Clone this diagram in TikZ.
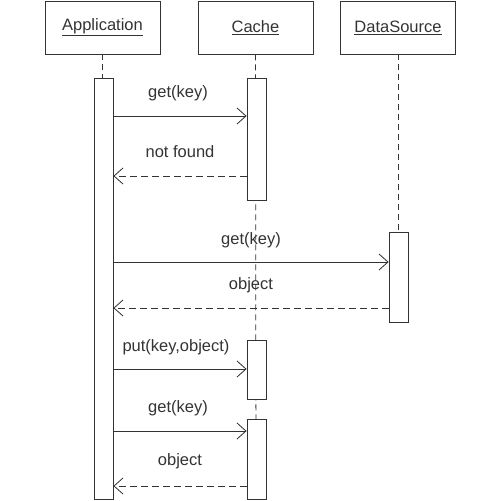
\documentclass[tikz,border=0pt]{standalone}
\usepackage{fontspec}
\setmainfont{Liberation Sans}
\usetikzlibrary{arrows.meta}
\begin{document}
\begin{tikzpicture}[x=1pt,y=-1pt,
  every node/.style={font=\fontsize{16.5}{19}\selectfont, text=black!80},
  head/.style={draw=black!80, line width=0.8pt, minimum width=115pt, minimum height=53pt, inner sep=0pt},
  life/.style={draw=black!80, line width=0.8pt, dash pattern=on 6pt off 4pt},
  act/.style={draw=black!80, fill=white, line width=0.8pt},
  msg/.style={draw=black!80, line width=0.8pt, -{Straight Barb[length=9pt,width=16pt]}},
  ret/.style={msg, dash pattern=on 7pt off 4pt},
  lbl/.style={inner sep=0pt}]
\useasboundingbox (0,0) rectangle (501,501);
% heads
\node[head] (app) at (102.5,27.5) {\underline{Application}};
\node[head] (cache) at (255.5,27.5) {\underline{Cache}};
\node[head] (ds) at (398,27.5) {\underline{DataSource}};
% lifelines
\coordinate (appL) at (102.5,78);
\coordinate (cacheL) at (256,499);
\coordinate (dsL) at (398,232);
\draw[life] (app.south) -- (appL);
\draw[life] (cache.south) -- (cacheL);
\draw[life] (ds.south) -- (dsL);
% activations
\node[act, minimum width=19pt, minimum height=421pt, inner sep=0pt] (appA) at (103.5,288.5) {};
\node[act, minimum width=19pt, minimum height=122pt, inner sep=0pt] (c1) at (256.5,139) {};
\node[act, minimum width=19pt, minimum height=90pt, inner sep=0pt] (dsA) at (398.5,277) {};
\node[act, minimum width=19pt, minimum height=59pt, inner sep=0pt] (c2) at (256.5,369.5) {};
\node[act, minimum width=19pt, minimum height=80pt, inner sep=0pt] (c3) at (256.5,459) {};
% messages
\draw[msg] (appA.east |- 0,116) -- (c1.west |- 0,116);
\node[lbl] (m1) at (178,93) {get(key)};
\draw[ret] (c1.west |- 0,176) -- (appA.east |- 0,176);
\node[lbl] (m2) at (180,152) {not found};
\draw[msg] (appA.east |- 0,262) -- (dsA.west |- 0,262);
\node[lbl] (m3) at (251,240) {get(key)};
\draw[ret] (dsA.west |- 0,308) -- (appA.east |- 0,308);
\node[lbl] (m4) at (251,285) {object};
\draw[msg] (appA.east |- 0,369) -- (c2.west |- 0,369);
\node[lbl] (m5) at (176,347) {put(key,object)};
\draw[msg] (appA.east |- 0,431) -- (c3.west |- 0,431);
\node[lbl] (m6) at (178,408) {get(key)};
\draw[ret] (c3.west |- 0,486) -- (appA.east |- 0,486);
\node[lbl] (m7) at (180,461) {object};
\end{tikzpicture}
\end{document}
